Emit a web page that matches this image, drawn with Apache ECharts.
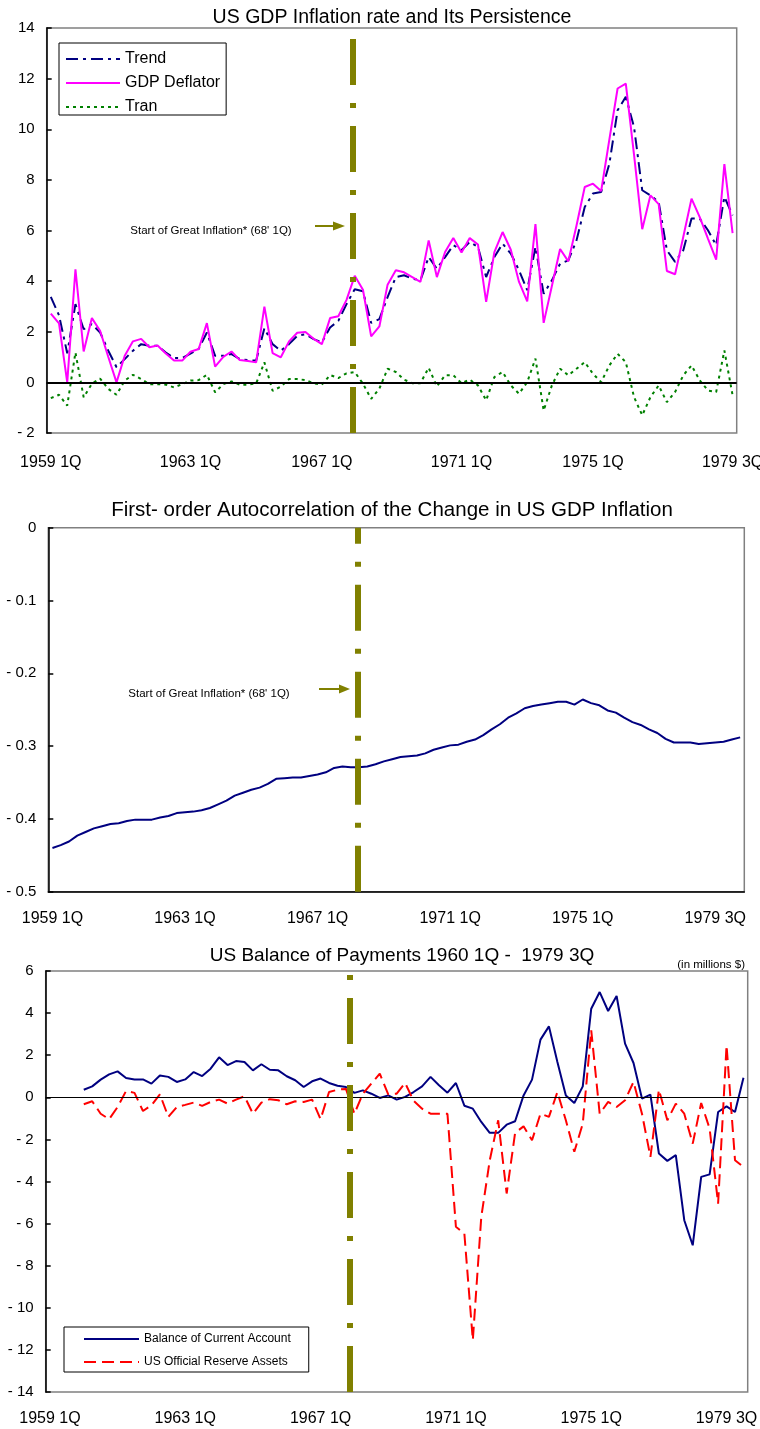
<!DOCTYPE html>
<html><head><meta charset="utf-8">
<script src="https://cdn.jsdelivr.net/npm/echarts@6/dist/echarts.min.js"></script>
<style>html,body{margin:0;padding:0;background:#fff}#c{width:760px;height:1429px}</style>
</head><body><div id="c"></div>
<script>
function quarters(y, q, n) { const out = []; for (let i = 0; i < n; i++) { out.push(y + ' ' + q + 'Q'); q++; if (q > 4) { q = 1; y++; } } return out; }

// Categories
const inflationQuarters = quarters(1958, 4, 84);   // panels 1 & 2
const bopQuarters = quarters(1959, 1, 83);          // panel 3
const tickLabels = ['1959 1Q', '1963 1Q', '1967 1Q', '1971 1Q', '1975 1Q', '1979 3Q'];
const p1TickIdx = [0, 17, 33, 50, 66, 83];
const p2TickIdx = [0, 16, 32, 48, 64, 80];
const p3TickIdx = [0, 16, 32, 48, 64, 80];
// Start of Great Inflation on a 0..N quarter scale
const greatInflation1 = 37.2, greatInflation2 = 37.3, greatInflation3 = 36.0;

// Panel 1
const trend = [3.38, 2.65, 1.15, 3.09, 2.1, 2.3, 1.97, 1.25, 0.6, 0.92, 1.25, 1.51, 1.45, 1.45, 1.18, 0.96, 0.96, 1.14, 1.32, 1.97,
  1.05, 1.05, 1.12, 0.92, 0.88, 0.86, 2.14, 1.51, 1.25, 1.51, 1.84, 1.9, 1.71, 1.58, 2.17, 2.43, 3.09, 3.68, 3.6, 2.35,
  2.5, 3.37, 4.16, 4.23, 4.10, 4.03, 4.95, 4.49, 4.95, 5.42, 5.22, 5.55, 5.35, 4.16, 4.95, 5.48, 5.09, 4.43, 3.64, 5.35,
  3.50, 4.03, 4.69, 4.82, 5.61, 6.93, 7.46, 7.52, 8.64, 10.75, 11.28, 10.09, 7.59, 7.39, 7.13, 5.22, 4.76, 5.22, 6.47, 6.47,
  6.01, 5.42, 7.33, 6.6];
const gdpDeflator = [2.72, 2.33, 0.0, 4.47, 1.22, 2.54, 2.04, 1.0, 0.0, 1.05, 1.62, 1.72, 1.39, 1.46, 1.14, 0.86, 0.86, 1.21, 1.32, 2.34,
  0.62, 1.01, 1.22, 0.88, 0.84, 0.79, 2.99, 1.16, 0.99, 1.62, 1.96, 1.99, 1.72, 1.51, 2.54, 2.61, 3.26, 4.21, 3.66, 1.82,
  2.21, 3.86, 4.43, 4.35, 4.16, 3.97, 5.61, 4.16, 5.15, 5.70, 5.13, 5.70, 5.45, 3.18, 5.15, 5.94, 5.24, 3.97, 3.20, 6.25,
  2.35, 3.81, 5.27, 4.78, 6.2, 7.72, 7.85, 7.56, 9.6, 11.61, 11.80, 9.0, 6.05, 7.39, 7.04, 4.40, 4.27, 5.75, 7.26, 6.53,
  5.68, 4.85, 8.62, 5.90];
const tran = [-0.62, -0.49, -0.92, 1.18, -0.59, -0.05, 0.15, -0.26, -0.49, 0.07, 0.3, 0.13, -0.07, -0.07, -0.09, -0.2, -0.07, 0.07, 0.09, 0.3,
  -0.39, -0.07, 0.04, -0.09, -0.09, -0.04, 0.79, -0.33, -0.17, 0.13, 0.13, 0.09, -0.04, -0.09, 0.29, 0.17, 0.36, 0.41, -0.05, -0.65,
  -0.25, 0.54, 0.41, 0.11, -0.03, -0.03, 0.58, -0.16, 0.28, 0.28, -0.03, 0.11, -0.12, -0.71, 0.21, 0.41, -0.12, -0.45, 0.01, 0.94,
  -1.11, -0.12, 0.54, 0.28, 0.54, 0.80, 0.34, 0.01, 0.67, 1.13, 0.80, -0.58, -1.30, -0.58, -0.12, -0.78, -0.38, 0.28, 0.67, 0.08,
  -0.32, -0.38, 1.26, -0.51];

// Panel 2
const autocorr = [-0.440, -0.436, -0.431, -0.423, -0.418, -0.413, -0.410, -0.407, -0.406, -0.403, -0.401, -0.401, -0.401, -0.398, -0.396, -0.392, -0.391, -0.390, -0.388, -0.385,
  -0.380, -0.375, -0.368, -0.364, -0.360, -0.357, -0.352, -0.345, -0.344, -0.343, -0.343, -0.341, -0.339, -0.336, -0.330, -0.328, -0.329, -0.329, -0.328, -0.325,
  -0.321, -0.318, -0.315, -0.314, -0.313, -0.310, -0.305, -0.302, -0.299, -0.298, -0.294, -0.291, -0.285, -0.277, -0.270, -0.261, -0.255, -0.248, -0.245, -0.243,
  -0.241, -0.239, -0.239, -0.243, -0.236, -0.241, -0.244, -0.251, -0.254, -0.261, -0.267, -0.271, -0.277, -0.282, -0.290, -0.295, -0.295, -0.295, -0.297, -0.296,
  -0.295, -0.294, -0.291, -0.288];

// Panel 3 (1960 1Q - 1979 3Q)
const currentAccount = [null, null, null, null,
  0.36, 0.52, 0.84, 1.09, 1.23, 0.92, 0.85, 0.85, 0.65, 1.04, 0.97, 0.73, 0.85, 1.20, 1.01, 1.36,
  1.90, 1.53, 1.72, 1.68, 1.28, 1.57, 1.31, 1.28, 1.00, 0.81, 0.49, 0.76, 0.89, 0.68, 0.55, 0.49,
  0.21, 0.33, 0.17, -0.03, 0.09, -0.11, 0.02, 0.25, 0.52, 0.97, 0.57, 0.22, 0.68, -0.40, -0.54, -1.17,
  -1.69, -1.69, -1.30, -1.14, 0.09, 0.84, 2.74, 3.37, 1.68, 0.09, -0.27, 0.52, 4.21, 5.00, 4.10, 4.81,
  2.55, 1.63, -0.06, 0.13, -2.67, -3.02, -2.75, -5.84, -7.03, -3.78, -3.66, -0.70, -0.43, -0.70, 0.93];
const reserveAssets = [null, null, null, null,
  -0.33, -0.19, -0.78, -1.04, -0.46, 0.30, 0.21, -0.65, -0.38, 0.14, -0.93, -0.46, -0.36, -0.25, -0.41, -0.22,
  -0.11, -0.30, -0.11, 0.05, -0.78, -0.25, -0.09, -0.14, -0.33, -0.19, -0.22, -0.11, -1.04, 0.25, 0.36, 0.40,
  -0.78, 0.17, 0.65, 1.12, 0.14, 0.17, 0.68, -0.17, -0.54, -0.78, -0.78, -0.78, -6.15, -6.47, -11.53, -5.68,
  -3.0, -1.09, -4.57, -1.69, -1.38, -2.04, -0.78, -0.93, 0.25, -1.09, -2.59, -1.25, 3.18, -0.78, -0.22, -0.46,
  -0.14, 0.73, -0.78, -2.83, 0.36, -1.09, -0.30, -0.78, -2.20, -0.27, -1.49, -5.05, 2.47, -2.99, -3.31];

const FONT = "'Liberation Sans', Arial, sans-serif";
const OLIVE = '#808000';
const yFmt = v => v < 0 ? '- ' + Math.abs(+v.toFixed(4)) : String(v);

function catAxis(gi, data, ticks, margin, showLine) {
  return {
    type: 'category', gridIndex: gi, data: data, boundaryGap: true,
    axisLine: { show: showLine, onZero: false, lineStyle: { color: '#000', width: 1.5 } },
    axisTick: { show: false },
    axisLabel: {
      interval: (i) => ticks.indexOf(i) >= 0,
      formatter: (v, i) => tickLabels[ticks.indexOf(i)],
      fontSize: 16, color: '#000', fontFamily: FONT, margin: margin
    },
    splitLine: { show: false }
  };
}
function hiddenAxis(gi, n) { return { type: 'value', gridIndex: gi, min: 0, max: n, show: false }; }
function valAxis(gi, min, max, interval) {
  return {
    type: 'value', gridIndex: gi, min: min, max: max, interval: interval,
    axisLine: { show: true, lineStyle: { color: '#000', width: 1.5 } },
    axisTick: { show: true, inside: true, length: 5, lineStyle: { color: '#000', width: 1.5 } },
    axisLabel: { formatter: yFmt, fontSize: 15, color: '#000', fontFamily: FONT, margin: 12 },
    splitLine: { show: false }
  };
}
function vline(xi, yi, pos) {
  return {
    type: 'line', xAxisIndex: xi, yAxisIndex: yi, data: [], z: 10, silent: true,
    markLine: {
      silent: true, symbol: ['none', 'none'], label: { show: false }, animation: false,
      lineStyle: { color: OLIVE, width: 6, type: [46, 18, 5, 18], opacity: 1 },
      emphasis: { disabled: true },
      data: [{ xAxis: pos }]
    }
  };
}
function zeroLine(w) {
  return {
    silent: true, symbol: ['none', 'none'], label: { show: false }, animation: false,
    lineStyle: { color: '#000', width: w, type: 'solid', opacity: 1 },
    emphasis: { disabled: true },
    data: [{ yAxis: 0 }]
  };
}

const chart = echarts.init(document.getElementById('c'), null, { renderer: 'canvas' });
chart.setOption({
  animation: false,
  backgroundColor: '#fff',
  textStyle: { fontFamily: FONT },
  title: [
    { text: 'US GDP Inflation rate and Its Persistence', left: 387, top: 3, textAlign: 'center',
      textStyle: { fontSize: 19.5, fontWeight: 'normal', color: '#000', fontFamily: FONT } },
    { text: 'First- order Autocorrelation of the Change in US GDP Inflation', left: 387, top: 495, textAlign: 'center',
      textStyle: { fontSize: 20.5, fontWeight: 'normal', color: '#000', fontFamily: FONT } },
    { text: 'US Balance of Payments 1960 1Q -  1979 3Q', left: 397, top: 941, textAlign: 'center',
      textStyle: { fontSize: 19, fontWeight: 'normal', color: '#000', fontFamily: FONT } },
    { text: '(in millions $)', left: 740, top: 954, textAlign: 'right',
      textStyle: { fontSize: 11.5, fontWeight: 'normal', color: '#000', fontFamily: FONT } }
  ],
  grid: [
    { left: 46.7, top: 28, width: 690, height: 405, show: true, borderColor: '#808080', borderWidth: 1.5, outerBoundsMode: 'none', containLabel: false },
    { left: 48.3, top: 527.7, width: 696, height: 364, show: true, borderColor: '#808080', borderWidth: 1.5, outerBoundsMode: 'none', containLabel: false },
    { left: 45.7, top: 971, width: 702, height: 421, show: true, borderColor: '#808080', borderWidth: 1.5, outerBoundsMode: 'none', containLabel: false }
  ],
  xAxis: [
    catAxis(0, inflationQuarters, p1TickIdx, 22, false),
    catAxis(1, inflationQuarters, p2TickIdx, 19, true),
    catAxis(2, bopQuarters, p3TickIdx, 19, false),
    hiddenAxis(0, inflationQuarters.length),
    hiddenAxis(1, inflationQuarters.length),
    hiddenAxis(2, bopQuarters.length)
  ],
  yAxis: [
    valAxis(0, -2, 14, 2),
    valAxis(1, -0.5, 0, 0.1),
    valAxis(2, -14, 6, 2)
  ],
  legend: [
    { data: ['Trend', 'GDP Deflator', 'Tran'], orient: 'vertical', left: 59, top: 43,
      borderColor: '#000', borderWidth: 1, padding: [8, 6, 0, 6], itemWidth: 54, itemHeight: 14, itemGap: 8,
      itemStyle: { opacity: 0 },
      textStyle: { fontSize: 16, color: '#000', fontFamily: FONT }, selectedMode: false },
    { data: ['Balance of Current Account', 'US Official Reserve Assets'], orient: 'vertical', left: 64, top: 1327,
      borderColor: '#000', borderWidth: 1, padding: [6, 18, 4, 19], itemWidth: 55, itemHeight: 12, itemGap: 11,
      itemStyle: { opacity: 0 },
      textStyle: { fontSize: 12, color: '#000', fontFamily: FONT }, selectedMode: false }
  ],
  series: [
    { name: 'Trend', type: 'line', xAxisIndex: 0, yAxisIndex: 0, data: trend, symbol: 'none',
      lineStyle: { color: '#000080', width: 2, type: [12, 5, 3, 5] }, itemStyle: { color: '#000080' } },
    { name: 'GDP Deflator', type: 'line', xAxisIndex: 0, yAxisIndex: 0, data: gdpDeflator, symbol: 'none',
      lineStyle: { color: '#FF00FF', width: 2 }, itemStyle: { color: '#FF00FF' } },
    { name: 'Tran', type: 'line', xAxisIndex: 0, yAxisIndex: 0, data: tran, symbol: 'none',
      lineStyle: { color: '#008000', width: 2, type: [3, 4] }, itemStyle: { color: '#008000' },
      markLine: zeroLine(2) },
    vline(3, 0, greatInflation1),

    { name: 'Autocorrelation', type: 'line', xAxisIndex: 1, yAxisIndex: 1, data: autocorr, symbol: 'none',
      lineStyle: { color: '#000080', width: 2 }, itemStyle: { color: '#000080' } },
    vline(4, 1, greatInflation2),

    { name: 'Balance of Current Account', type: 'line', xAxisIndex: 2, yAxisIndex: 2, data: currentAccount, symbol: 'none',
      lineStyle: { color: '#000080', width: 2 }, itemStyle: { color: '#000080' }, markLine: zeroLine(1) },
    { name: 'US Official Reserve Assets', type: 'line', xAxisIndex: 2, yAxisIndex: 2, data: reserveAssets, symbol: 'none',
      lineStyle: { color: '#FF0000', width: 2, type: [12, 6] }, itemStyle: { color: '#FF0000' } },
    vline(5, 2, greatInflation3)
  ],
  graphic: [
    { type: 'text', x: 211, y: 231, style: { text: "Start of Great Inflation* (68' 1Q)", fontSize: 11.5, fontFamily: FONT, fill: '#000', align: 'center', verticalAlign: 'middle' } },
    { type: 'line', shape: { x1: 315, y1: 226, x2: 336, y2: 226 }, style: { stroke: OLIVE, lineWidth: 2 } },
    { type: 'polygon', shape: { points: [[333, 221.5], [345, 226], [333, 230.5]] }, style: { fill: OLIVE } },
    { type: 'text', x: 209, y: 694, style: { text: "Start of Great Inflation* (68' 1Q)", fontSize: 11.5, fontFamily: FONT, fill: '#000', align: 'center', verticalAlign: 'middle' } },
    { type: 'line', shape: { x1: 319, y1: 689, x2: 341, y2: 689 }, style: { stroke: OLIVE, lineWidth: 2 } },
    { type: 'polygon', shape: { points: [[339, 684.5], [350, 689], [339, 693.5]] }, style: { fill: OLIVE } }
  ]
});
</script>
</body></html>
